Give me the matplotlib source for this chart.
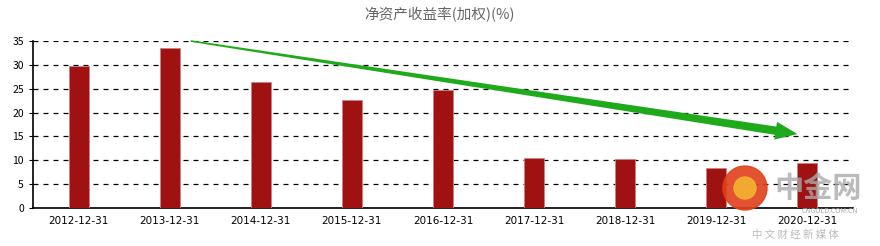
import matplotlib
matplotlib.use("Agg")
from matplotlib import pyplot as plt
from matplotlib.patches import Polygon, Circle
import numpy as np

plt.rcParams['font.family'] = ['Noto Sans CJK SC', 'DejaVu Sans']

# data
dates = ['2012-12-31', '2013-12-31', '2014-12-31', '2015-12-31', '2016-12-31',
         '2017-12-31', '2018-12-31', '2019-12-31', '2020-12-31']
roe = [29.8, 33.5, 26.4, 22.6, 24.7, 10.5, 10.3, 8.4, 9.5]
title = '净资产收益率(加权)(%)'

# trend arrow (data coords: category index, value)
arrow_start = (1.23, 35.0)
arrow_end = (7.89, 15.5)

fig = plt.figure(figsize=(8.8, 2.46), dpi=100)
ax = fig.add_axes([33/880, 38/246, 820/880, 167/246])

x = np.arange(len(dates))
ax.bar(x, roe, width=0.22, color='#A01212', edgecolor='#d08080', linewidth=0.6, zorder=3)

ax.set_xlim(-0.5, len(dates) - 0.5)
ax.set_ylim(0, 35)
ax.set_yticks(range(0, 36, 5))
ax.set_xticks(x)
ax.set_xticklabels(dates, family='DejaVu Sans')
ax.tick_params(axis='both', labelsize=7.5, length=3, color='black')
ax.tick_params(axis='x', length=0, pad=6)
ax.yaxis.grid(True, linestyle=(0, (4, 4)), color='black', linewidth=0.9)
ax.set_axisbelow(True)
for s in ['top', 'right']:
    ax.spines[s].set_visible(False)
ax.spines['left'].set_linewidth(1.2)
ax.spines['bottom'].set_linewidth(1.2)

fig.text(0.5, 0.94, title, ha='center', va='center', fontsize=10.5, color='#666666')

# tapered green arrow drawn in display space
p0 = ax.transData.transform(arrow_start)
p1 = ax.transData.transform(arrow_end)
d = p1 - p0
L = np.hypot(*d)
u = d / L
n = np.array([-u[1], u[0]])
head_len, head_w = 22, 9
w0, w1 = 0.8, 4.2
base = p1 - u * head_len
pts = [p0 + n * w0, base + n * w1, base + n * head_w, p1,
       base - n * head_w, base - n * w1, p0 - n * w0]
inv = ax.transData.inverted()
ax.add_patch(Polygon(inv.transform(pts), closed=True, color='#1eaa1a', zorder=5,
                     clip_on=False, linewidth=0))

# watermark
ax2 = fig.add_axes([0, 0, 1, 1], facecolor='none')
ax2.set_xlim(0, 880)
ax2.set_ylim(246, 0)
ax2.axis('off')
ax2.add_patch(Circle((745, 188), 22, color='#e0401c', alpha=0.9))
ax2.add_patch(Circle((745, 188), 11, color='#f5b330', alpha=0.9))
ax2.text(818, 188, '中金网', fontsize=21, color='#aaaaaa', ha='center', va='center',
         fontweight='bold', alpha=0.8)
ax2.text(830, 211, 'CNGOLD.COM.CN', fontsize=5, color='#aaaaaa', ha='center', va='center')
ax2.text(795, 235, '中 文 财 经 新 媒 体', fontsize=7.5, color='#bbbbbb', ha='center', va='center')

fig.savefig('out.png', dpi=100)
